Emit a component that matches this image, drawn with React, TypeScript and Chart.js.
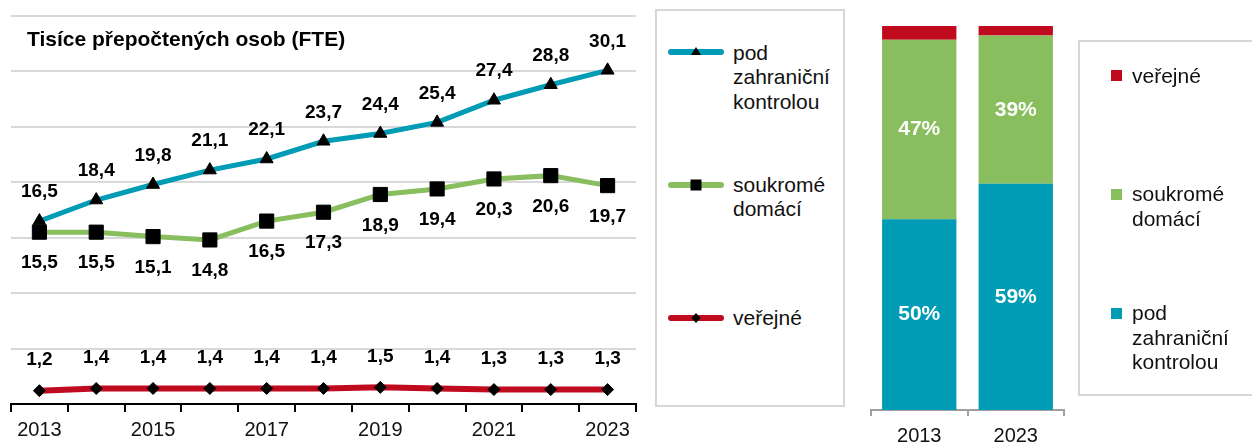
import React, { useEffect, useRef } from "react";
import { Chart, registerables } from "chart.js";

Chart.register(...registerables);

// ---------- data ----------
const years = ["2013", "2014", "2015", "2016", "2017", "2018", "2019", "2020", "2021", "2022", "2023"];
const foreignFte = [16.5, 18.4, 19.8, 21.1, 22.1, 23.7, 24.4, 25.4, 27.4, 28.8, 30.1];
const domesticFte = [15.5, 15.5, 15.1, 14.8, 16.5, 17.3, 18.9, 19.4, 20.3, 20.6, 19.7];
const publicFte = [1.2, 1.4, 1.4, 1.4, 1.4, 1.4, 1.5, 1.4, 1.3, 1.3, 1.3];
const yMin = 0;
const yMax = 35;
const yStep = 5;

const shareYears = ["2013", "2023"];
const shareForeign = [49.7, 58.9];
const shareDomestic = [46.7, 38.6];
const sharePublic = [3.6, 2.5];

const chartTitle = "Tisíce přepočtených osob (FTE)";
const nameForeign = ["pod", "zahraniční", "kontrolou"];
const nameDomestic = ["soukromé", "domácí"];
const namePublic = ["veřejné"];

// ---------- styles ----------
const BLUE = "#009BB4";
const GREEN = "#88BE5E";
const RED = "#C00A1E";
const FONT = "'Liberation Sans', Arial, Helvetica, sans-serif";
const TEXT = "#111111";

const lineLabelPlugin = {
  id: "lineLabels",
  afterDatasetsDraw(chart: any) {
    const { ctx } = chart;
    ctx.save();
    ctx.fillStyle = "#000";
    ctx.textAlign = "center";
    ctx.textBaseline = "middle";
    ctx.font = `bold 19px ${FONT}`;
    const offsets = [-29, 31, -31];
    chart.data.datasets.forEach((ds: any, i: number) => {
      const meta = chart.getDatasetMeta(i);
      meta.data.forEach((el: any, j: number) => {
        const v = ds.data[j] as number;
        ctx.fillText(v.toFixed(1).replace(".", ","), el.x, el.y + offsets[i]);
      });
    });
    ctx.textAlign = "left";
    ctx.font = `bold 21px ${FONT}`;
    ctx.fillText(chartTitle, chart.chartArea.left + 16, 40);
    ctx.restore();
  },
};

const barLabelPlugin = {
  id: "barLabels",
  afterDatasetsDraw(chart: any) {
    const { ctx } = chart;
    ctx.save();
    ctx.fillStyle = "#fff";
    ctx.textAlign = "center";
    ctx.textBaseline = "middle";
    ctx.font = `bold 21px ${FONT}`;
    [0, 1].forEach((i) => {
      const ds = chart.data.datasets[i];
      const meta = chart.getDatasetMeta(i);
      meta.data.forEach((el: any, j: number) => {
        const p = el.getProps(["x", "y", "base"], true);
        const v = ds.data[j] as number;
        ctx.fillText(`${Math.round(v)}%`, p.x, (p.y + p.base) / 2);
      });
    });
    ctx.restore();
  },
};

function TriangleMarker() {
  return <polygon points="31,5 36,13 26,13" fill="#000" />;
}
function SquareMarker() {
  return <rect x={25.5} y={4.5} width={11} height={11} fill="#000" />;
}
function DiamondMarker() {
  return <polygon points="31,5 35.5,10 31,15 26.5,10" fill="#000" />;
}

function LineSample({ top, color, marker }: { top: number; color: string; marker: React.ReactNode }) {
  return (
    <svg
      width={62}
      height={20}
      style={{ position: "absolute", left: 665, top: top - 10 }}
    >
      <line x1={6} y1={10} x2={56} y2={10} stroke={color} strokeWidth={6} strokeLinecap="round" />
      {marker}
    </svg>
  );
}

function TextBlock({ left, top, lines, lh }: { left: number; top: number; lines: string[]; lh: number }) {
  return (
    <div
      style={{
        position: "absolute",
        left,
        top,
        fontFamily: FONT,
        fontSize: 21,
        lineHeight: `${lh}px`,
        color: TEXT,
        whiteSpace: "nowrap",
      }}
    >
      {lines.map((l, i) => (
        <div key={i}>{l}</div>
      ))}
    </div>
  );
}

export default function App() {
  const lineRef = useRef<HTMLCanvasElement>(null);
  const barRef = useRef<HTMLCanvasElement>(null);

  useEffect(() => {
    const lineChart = new Chart(lineRef.current as HTMLCanvasElement, {
      type: "line",
      data: {
        labels: years,
        datasets: [
          {
            label: nameForeign.join(" "),
            data: foreignFte,
            borderColor: BLUE,
            borderWidth: 5,
            tension: 0,
            pointStyle: "triangle",
            pointRadius: 7.5,
            pointBackgroundColor: "#000",
            pointBorderColor: "#000",
            pointBorderWidth: 1,
          },
          {
            label: nameDomestic.join(" "),
            data: domesticFte,
            borderColor: GREEN,
            borderWidth: 5,
            tension: 0,
            pointStyle: "rect",
            pointRadius: 10,
            pointBackgroundColor: "#000",
            pointBorderColor: "#000",
            pointBorderWidth: 1,
          },
          {
            label: namePublic.join(" "),
            data: publicFte,
            borderColor: RED,
            borderWidth: 6,
            tension: 0,
            pointStyle: "rectRot",
            pointRadius: 6,
            pointBackgroundColor: "#000",
            pointBorderColor: "#000",
            pointBorderWidth: 1,
          },
        ],
      },
      options: {
        animation: false,
        responsive: false,
        maintainAspectRatio: false,
        layout: { padding: { left: 9, right: 14, top: 16, bottom: 0 } },
        plugins: { legend: { display: false }, tooltip: { enabled: false }, title: { display: false } },
        scales: {
          x: {
            type: "category",
            offset: true,
            grid: {
              display: true,
              offset: true,
              drawOnChartArea: false,
              drawTicks: true,
              tickLength: 8,
              color: "#000",
              lineWidth: 2,
            },
            border: { display: true, color: "#000", width: 2 },
            ticks: {
              autoSkip: false,
              maxRotation: 0,
              padding: 6,
              color: TEXT,
              font: { family: FONT, size: 20 },
              callback: (_v: any, i: number) => (i % 2 === 0 ? years[i] : ""),
            },
            afterFit: (s: any) => {
              s.height = 39;
            },
          },
          y: {
            min: yMin,
            max: yMax,
            ticks: { display: false, stepSize: yStep },
            grid: {
              drawTicks: false,
              lineWidth: 2,
              color: (c: any) => (c.tick && c.tick.value === 0 ? "rgba(0,0,0,0)" : "#d9d9d9"),
            },
            border: { display: false },
            afterFit: (s: any) => {
              s.width = 0;
            },
          },
        },
      },
      plugins: [lineLabelPlugin],
    } as any);

    const barChart = new Chart(barRef.current as HTMLCanvasElement, {
      type: "bar",
      data: {
        labels: shareYears,
        datasets: [
          { label: nameForeign.join(" "), data: shareForeign, backgroundColor: BLUE, borderWidth: 0 },
          { label: nameDomestic.join(" "), data: shareDomestic, backgroundColor: GREEN, borderWidth: 0 },
          { label: namePublic.join(" "), data: sharePublic, backgroundColor: RED, borderWidth: 0 },
        ],
      },
      options: {
        animation: false,
        responsive: false,
        maintainAspectRatio: false,
        layout: { padding: { left: 11, right: 16, top: 26, bottom: 0 } },
        datasets: { bar: { barPercentage: 0.77, categoryPercentage: 1 } },
        plugins: { legend: { display: false }, tooltip: { enabled: false } },
        scales: {
          x: {
            stacked: true,
            offset: true,
            grid: {
              display: true,
              offset: true,
              drawOnChartArea: false,
              drawTicks: true,
              tickLength: 6,
              color: "#a0a0a0",
              lineWidth: 2,
            },
            border: { display: true, color: "#a0a0a0", width: 2 },
            ticks: { padding: 8, color: TEXT, font: { family: FONT, size: 20 }, maxRotation: 0 },
            afterFit: (s: any) => {
              s.height = 33;
            },
          },
          y: {
            stacked: true,
            min: 0,
            max: 100,
            display: false,
          },
        },
      },
      plugins: [barLabelPlugin],
    } as any);

    return () => {
      lineChart.destroy();
      barChart.destroy();
    };
  }, []);

  return (
    <div
      style={{
        position: "absolute",
        left: 0,
        top: 0,
        width: 1252,
        height: 443,
        overflow: "hidden",
        background: "#fff",
      }}
    >
      <canvas ref={lineRef} width={650} height={443} style={{ position: "absolute", left: 0, top: 0 }} />
      <canvas ref={barRef} width={220} height={443} style={{ position: "absolute", left: 860, top: 0 }} />

      {/* legend for the line chart */}
      <div
        style={{
          position: "absolute",
          left: 655,
          top: 9,
          width: 190,
          height: 398,
          boxSizing: "border-box",
          border: "2px solid #d6d6d6",
        }}
      />
      <LineSample top={52} color={BLUE} marker={<TriangleMarker />} />
      <TextBlock left={733} top={41} lines={nameForeign} lh={24.3} />
      <LineSample top={185} color={GREEN} marker={<SquareMarker />} />
      <TextBlock left={733} top={173} lines={nameDomestic} lh={24.3} />
      <LineSample top={318} color={RED} marker={<DiamondMarker />} />
      <TextBlock left={733} top={306} lines={namePublic} lh={24.3} />

      {/* legend for the share bars */}
      <div
        style={{
          position: "absolute",
          left: 1078,
          top: 40,
          width: 200,
          height: 356,
          boxSizing: "border-box",
          border: "2px solid #d6d6d6",
        }}
      />
      <div style={{ position: "absolute", left: 1111, top: 70, width: 11, height: 11, background: RED }} />
      <TextBlock left={1132} top={64} lines={namePublic} lh={24.5} />
      <div style={{ position: "absolute", left: 1111, top: 189, width: 11, height: 11, background: GREEN }} />
      <TextBlock left={1132} top={182} lines={nameDomestic} lh={24.5} />
      <div style={{ position: "absolute", left: 1111, top: 308, width: 11, height: 11, background: BLUE }} />
      <TextBlock left={1132} top={301} lines={nameForeign} lh={24.5} />
    </div>
  );
}
